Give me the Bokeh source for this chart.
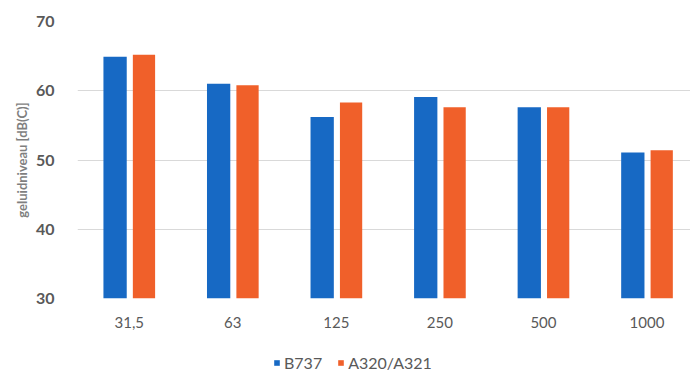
from bokeh.plotting import figure
from bokeh.layouts import column
from bokeh.models import ColumnDataSource, FixedTicker, Legend, LegendItem, Range1d
from bokeh.embed import file_html
from bokeh.resources import INLINE

# Octave-band centre frequencies (Hz) and sound levels per aircraft type
frequencies = ["31,5", "63", "125", "250", "500", "1000"]
b737 = [64.9, 61.0, 56.2, 59.1, 57.6, 51.1]
a320_a321 = [65.2, 60.8, 58.3, 57.6, 57.6, 51.4]
y_ticks = [30, 40, 50, 60, 70]

BLUE = "#1769c4"
ORANGE = "#f0602a"
TEXT = "#595959"
FONT = "Lato"

idx = list(range(len(frequencies)))
src_b = ColumnDataSource(dict(x=[i - 0.137 for i in idx], top=b737))
src_a = ColumnDataSource(dict(x=[i + 0.142 for i in idx], top=a320_a321))

p = figure(width=690, height=335, output_backend="svg", toolbar_location=None,
           x_range=Range1d(-0.5, 5.42), y_range=Range1d(30, 70),
           min_border_left=77, min_border_right=0, min_border_top=21,
           min_border_bottom=37)
p.outline_line_color = None
p.background_fill_color = "white"
p.border_fill_color = "white"

p.vbar(x="x", top="top", bottom=30, width=0.225, source=src_b,
       fill_color=BLUE, line_color=None)
p.vbar(x="x", top="top", bottom=30, width=0.215, source=src_a,
       fill_color=ORANGE, line_color=None)

# x axis: category labels
p.xaxis.ticker = FixedTicker(ticks=idx)
p.xaxis.major_label_overrides = {i: f for i, f in zip(idx, frequencies)}
p.xaxis.axis_line_color = None
p.xaxis.major_tick_line_color = None
p.xaxis.minor_tick_line_color = None
p.xaxis.major_label_text_font = FONT
p.xaxis.major_label_text_font_size = "15px"
p.xaxis.major_label_text_color = TEXT
p.xaxis.major_label_standoff = 12
p.xgrid.grid_line_color = None

# y axis
p.yaxis.ticker = FixedTicker(ticks=y_ticks)
p.yaxis.axis_line_color = None
p.yaxis.major_tick_line_color = None
p.yaxis.minor_tick_line_color = None
p.yaxis.major_label_text_font = FONT
p.yaxis.major_label_text_font_style = "bold"
p.yaxis.major_label_text_font_size = "16px"
p.yaxis.major_label_text_color = TEXT
p.yaxis.major_label_standoff = 17
p.yaxis.axis_label = "geluidniveau [dB(C)]"
p.yaxis.axis_label_text_font = FONT
p.yaxis.axis_label_text_font_style = "bold"
p.yaxis.axis_label_text_font_size = "13px"
p.yaxis.axis_label_text_color = "#7f7f7f"
p.yaxis.axis_label_standoff = 3
p.ygrid.grid_line_color = "#d9d9d9"
p.ygrid.grid_line_width = 1

# legend strip underneath the chart; swatch renderers sit outside its view
leg = figure(width=690, height=38, output_backend="svg", toolbar_location=None,
             x_range=Range1d(0, 1), y_range=Range1d(0, 1),
             x_axis_type=None, y_axis_type=None,
             min_border=0, min_border_left=0, min_border_right=0,
             min_border_top=0, min_border_bottom=0)
leg.outline_line_color = None
leg.xgrid.grid_line_color = None
leg.ygrid.grid_line_color = None
kb = leg.vbar(x=[-5], top=[-5], bottom=-6, width=0.1, fill_color=BLUE, line_color=None)
ka = leg.vbar(x=[-5], top=[-5], bottom=-6, width=0.1, fill_color=ORANGE, line_color=None)
legend = Legend(items=[LegendItem(label="B737", renderers=[kb]),
                       LegendItem(label="A320/A321", renderers=[ka])],
                orientation="horizontal", location=(196, 1),
                label_text_font=FONT, label_text_font_size="16px",
                label_text_color=TEXT, glyph_width=7, glyph_height=7,
                label_standoff=4, spacing=15, border_line_color=None,
                background_fill_alpha=0, padding=2, margin=0)
leg.add_layout(legend)

layout = column(p, leg, spacing=0)
open("out.html", "w").write(file_html(layout, INLINE))
